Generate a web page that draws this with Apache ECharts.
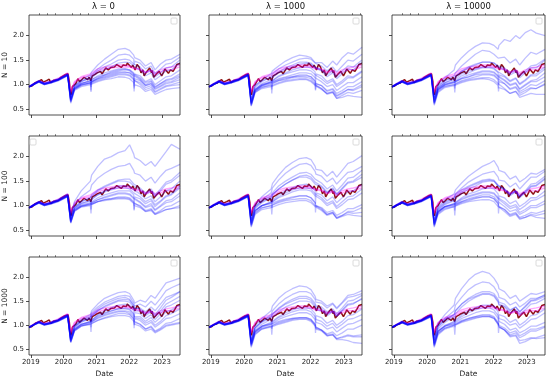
<!DOCTYPE html>
<html><head><meta charset="utf-8">
<script src="https://cdn.jsdelivr.net/npm/echarts@6/dist/echarts.min.js"></script>
<style>html,body{margin:0;padding:0;background:#fff}#c{width:550px;height:379px}</style>
</head><body><div id="c"></div>
<script>
const colTitles = ['λ = 0', 'λ = 1000', 'λ = 10000'];
const rowTitles = ['N = 10', 'N = 100', 'N = 1000'];
const yTickValues = [0.5, 1.0, 1.5, 2.0];
const yearTicks = ['2019-01-01','2020-01-01','2021-01-01','2022-01-01','2023-01-01'];
const quarterTicks = ['2019-04-01','2019-07-01','2019-10-01','2020-04-01','2020-07-01','2020-10-01','2021-04-01','2021-07-01','2021-10-01','2022-04-01','2022-07-01','2022-10-01','2023-04-01','2023-07-01'];

const gridDates = ['2018-12-12','2019-02-01','2019-04-01','2019-06-01','2019-08-15','2019-11-01','2020-02-15','2020-03-20','2020-05-01','2020-07-15','2020-10-25','2020-11-01','2020-11-08','2021-01-15','2021-04-01','2021-06-15','2021-09-01','2021-11-15','2022-01-05','2022-02-20','2022-02-24','2022-03-01','2022-05-01','2022-07-01','2022-09-01','2022-10-15','2022-12-15','2023-02-15','2023-04-15','2023-07-20'];

const benchDates = ['2018-12-12','2018-12-24','2019-01-10','2019-02-01','2019-02-20','2019-03-10','2019-04-01','2019-04-30','2019-05-20','2019-06-05','2019-06-25','2019-07-25','2019-08-10','2019-08-28','2019-09-15','2019-10-05','2019-10-30','2019-11-25','2019-12-15','2020-01-15','2020-01-30','2020-02-19','2020-03-05','2020-03-12','2020-03-23','2020-04-08','2020-04-30','2020-05-15','2020-06-08','2020-06-26','2020-07-20','2020-08-15','2020-09-02','2020-09-23','2020-10-12','2020-10-30','2020-11-16','2020-12-15','2021-01-08','2021-01-29','2021-02-15','2021-03-04','2021-03-25','2021-04-15','2021-05-12','2021-06-10','2021-06-30','2021-07-20','2021-08-15','2021-09-03','2021-10-04','2021-10-25','2021-11-08','2021-11-30','2021-12-10','2021-12-29','2022-01-25','2022-02-09','2022-03-07','2022-03-29','2022-04-20','2022-05-12','2022-06-01','2022-06-16','2022-07-08','2022-08-16','2022-09-06','2022-09-12','2022-09-30','2022-10-12','2022-11-01','2022-11-30','2022-12-28','2023-01-20','2023-02-02','2023-03-13','2023-04-05','2023-05-04','2023-05-30','2023-06-15','2023-07-20'];
const benchValues = [0.96,0.93,0.97,1.01,1.04,1.03,1.07,1.10,1.05,1.02,1.08,1.11,1.04,1.06,1.09,1.05,1.10,1.14,1.16,1.20,1.17,1.22,1.06,0.90,0.79,0.96,1.00,1.02,1.12,1.06,1.10,1.15,1.18,1.10,1.15,1.08,1.18,1.21,1.24,1.20,1.27,1.22,1.28,1.34,1.30,1.35,1.38,1.36,1.41,1.42,1.35,1.40,1.44,1.39,1.44,1.46,1.35,1.40,1.30,1.41,1.36,1.24,1.30,1.18,1.25,1.34,1.24,1.29,1.15,1.13,1.22,1.27,1.18,1.26,1.32,1.23,1.30,1.27,1.35,1.41,1.43];

const pinkA = [0.96,1.01,1.07,1.03,1.06,1.11,1.22,0.84,1.04,1.14,1.18,1.18,1.22,1.28,1.32,1.34,1.36,1.36,1.36,1.32,1.32,1.30,1.30,1.24,1.28,1.20,1.26,1.30,1.30,1.36];
const pinkB = [0.96,1.02,1.08,1.04,1.07,1.13,1.24,0.86,1.06,1.16,1.22,1.22,1.26,1.32,1.36,1.38,1.40,1.40,1.38,1.34,1.34,1.32,1.32,1.26,1.30,1.24,1.30,1.34,1.36,1.40];

const blueN10L0 = [
[0.96,1.02,1.08,1.03,1.07,1.12,1.22,0.74,0.98,1.10,1.20,1.20,1.26,1.40,1.52,1.62,1.72,1.74,1.70,1.60,1.60,1.55,1.50,1.38,1.45,1.30,1.42,1.50,1.52,1.62],
[0.95,1.01,1.07,1.02,1.06,1.11,1.20,0.70,0.95,1.06,1.15,1.15,1.20,1.32,1.42,1.50,1.60,1.62,1.60,1.52,1.40,1.48,1.44,1.32,1.38,1.22,1.32,1.42,1.44,1.56],
[0.96,1.01,1.06,1.01,1.05,1.10,1.20,0.72,0.96,1.06,1.12,0.95,1.14,1.24,1.30,1.36,1.44,1.46,1.45,1.38,1.38,1.34,1.30,1.18,1.24,1.10,1.18,1.28,1.30,1.45],
[0.95,1.00,1.06,1.00,1.04,1.09,1.19,0.66,0.92,1.02,1.08,1.08,1.10,1.18,1.24,1.28,1.32,1.32,1.30,1.24,1.02,1.22,1.18,1.06,1.12,1.00,1.08,1.16,1.18,1.30],
[0.96,1.01,1.06,1.02,1.05,1.10,1.20,0.68,0.93,1.02,1.08,0.88,1.10,1.16,1.20,1.24,1.28,1.30,1.28,1.20,1.20,1.16,1.12,1.00,1.06,0.94,1.02,1.10,1.12,1.22],
[0.95,1.00,1.05,1.00,1.04,1.08,1.18,0.64,0.90,0.99,1.04,1.04,1.06,1.12,1.16,1.20,1.24,1.25,1.24,1.16,0.96,1.12,1.08,0.98,1.02,0.92,0.98,1.05,1.06,1.15],
[0.96,1.01,1.07,1.02,1.05,1.10,1.21,0.70,0.94,1.03,1.06,1.06,1.08,1.12,1.18,1.22,1.26,1.26,1.24,1.18,1.18,1.14,1.10,0.98,1.02,0.90,0.96,1.02,1.04,1.10],
[0.95,1.00,1.06,1.01,1.04,1.09,1.19,0.67,0.91,1.00,1.03,0.85,1.05,1.10,1.14,1.18,1.22,1.22,1.20,1.12,0.92,1.08,1.04,0.94,0.98,0.86,0.92,0.98,1.00,1.05],
[0.96,1.01,1.06,1.01,1.05,1.10,1.20,0.65,0.90,0.98,1.02,1.02,1.04,1.08,1.12,1.16,1.20,1.20,1.18,1.10,1.10,1.06,1.00,0.90,0.94,0.84,0.90,0.96,0.98,1.00],
[0.95,1.00,1.05,1.00,1.03,1.08,1.18,0.62,0.88,0.96,1.00,1.00,1.02,1.06,1.10,1.12,1.16,1.15,1.12,1.04,0.86,1.00,0.96,0.86,0.90,0.80,0.85,0.90,0.92,0.94],
[0.96,1.02,1.08,1.03,1.06,1.11,1.21,0.76,0.98,1.08,1.14,1.14,1.18,1.28,1.36,1.42,1.50,1.52,1.50,1.42,1.42,1.38,1.36,1.24,1.30,1.16,1.24,1.34,1.36,1.50],
[0.95,1.00,1.06,1.01,1.04,1.09,1.19,0.69,0.92,1.00,1.04,1.04,1.07,1.14,1.20,1.26,1.30,1.32,1.30,1.22,1.22,1.18,1.14,1.04,1.08,0.96,1.02,1.08,1.10,1.18]];

const blueN10L1000 = [
[0.96,1.02,1.08,1.03,1.07,1.12,1.22,0.70,0.97,1.10,1.22,1.22,1.28,1.38,1.48,1.55,1.60,1.58,1.55,1.45,1.45,1.42,1.45,1.35,1.48,1.40,1.55,1.65,1.62,1.76],
[0.95,1.01,1.07,1.02,1.06,1.11,1.20,0.66,0.94,1.06,1.16,1.16,1.22,1.32,1.40,1.46,1.52,1.54,1.52,1.44,1.44,1.40,1.38,1.28,1.36,1.26,1.38,1.50,1.48,1.62],
[0.96,1.01,1.06,1.01,1.05,1.10,1.20,0.62,0.90,1.02,1.10,0.90,1.14,1.24,1.30,1.36,1.42,1.44,1.42,1.34,1.34,1.30,1.28,1.16,1.24,1.12,1.22,1.32,1.30,1.46],
[0.95,1.00,1.06,1.00,1.04,1.09,1.19,0.58,0.86,0.98,1.06,1.06,1.10,1.18,1.24,1.30,1.34,1.36,1.34,1.26,1.00,1.22,1.18,1.06,1.12,1.00,1.08,1.18,1.16,1.28],
[0.96,1.01,1.06,1.02,1.05,1.10,1.20,0.60,0.88,0.98,1.04,1.04,1.06,1.12,1.16,1.20,1.24,1.24,1.22,1.14,1.14,1.10,1.06,0.96,1.00,0.88,0.96,1.04,1.04,1.16],
[0.95,1.00,1.05,1.00,1.04,1.08,1.18,0.56,0.84,0.94,1.00,0.82,1.02,1.08,1.12,1.16,1.18,1.18,1.16,1.06,0.90,1.02,0.98,0.88,0.92,0.82,0.88,0.96,0.96,1.06],
[0.96,1.01,1.07,1.02,1.05,1.10,1.21,0.64,0.90,1.00,1.04,1.04,1.06,1.10,1.14,1.16,1.20,1.20,1.16,1.08,1.08,1.02,0.98,0.86,0.90,0.78,0.84,0.90,0.88,0.96],
[0.95,1.00,1.06,1.01,1.04,1.09,1.19,0.60,0.86,0.95,0.98,0.98,1.00,1.04,1.08,1.10,1.12,1.12,1.08,1.00,1.00,0.96,0.92,0.80,0.84,0.72,0.78,0.84,0.82,0.88],
[0.96,1.01,1.06,1.01,1.05,1.10,1.20,0.62,0.88,0.97,1.02,1.02,1.04,1.08,1.10,1.14,1.16,1.15,1.12,1.02,0.88,0.98,0.92,0.82,0.84,0.72,0.74,0.78,0.76,0.74],
[0.95,1.00,1.05,1.00,1.03,1.08,1.18,0.57,0.84,0.92,0.96,0.96,0.98,1.02,1.06,1.08,1.10,1.10,1.06,0.98,0.98,0.94,0.90,0.82,0.86,0.76,0.82,0.90,0.90,1.00],
[0.96,1.02,1.08,1.03,1.06,1.11,1.21,0.72,0.98,1.08,1.14,1.14,1.18,1.26,1.34,1.40,1.46,1.46,1.44,1.36,1.36,1.32,1.30,1.20,1.28,1.16,1.28,1.38,1.36,1.50],
[0.95,1.00,1.06,1.01,1.04,1.09,1.19,0.64,0.90,1.00,1.06,1.06,1.10,1.16,1.22,1.26,1.30,1.30,1.28,1.20,1.20,1.16,1.12,1.02,1.08,0.96,1.04,1.14,1.14,1.26]];

const blueN10L10000 = [
[0.96,1.02,1.08,1.03,1.07,1.12,1.22,0.74,1.00,1.14,1.30,1.30,1.40,1.55,1.68,1.78,1.85,1.84,1.80,1.72,1.72,1.80,1.92,1.88,2.00,1.94,2.06,2.12,2.05,2.00],
[0.95,1.01,1.07,1.02,1.06,1.11,1.20,0.72,0.96,1.08,1.18,1.18,1.24,1.38,1.50,1.62,1.70,1.68,1.62,1.54,1.54,1.50,1.56,1.44,1.52,1.40,1.54,1.66,1.62,1.72],
[0.96,1.01,1.06,1.01,1.05,1.10,1.20,0.68,0.93,1.04,1.12,0.92,1.16,1.26,1.34,1.40,1.46,1.46,1.44,1.36,1.36,1.32,1.30,1.20,1.26,1.14,1.24,1.34,1.34,1.50],
[0.95,1.00,1.06,1.00,1.04,1.09,1.19,0.62,0.90,1.00,1.06,1.06,1.10,1.18,1.24,1.30,1.34,1.34,1.32,1.24,1.00,1.20,1.16,1.06,1.12,1.00,1.08,1.18,1.18,1.32],
[0.96,1.01,1.06,1.02,1.05,1.10,1.20,0.64,0.90,0.99,1.04,1.04,1.06,1.12,1.16,1.22,1.26,1.26,1.24,1.16,1.16,1.12,1.08,0.98,1.02,0.90,0.98,1.06,1.06,1.16],
[0.95,1.00,1.05,1.00,1.04,1.08,1.18,0.60,0.86,0.96,1.00,0.84,1.02,1.08,1.12,1.16,1.20,1.20,1.18,1.10,0.92,1.06,1.02,0.92,0.96,0.86,0.92,1.00,0.98,1.08],
[0.96,1.01,1.07,1.02,1.05,1.10,1.21,0.66,0.92,1.02,1.06,1.06,1.08,1.12,1.16,1.20,1.22,1.22,1.20,1.12,1.12,1.08,1.02,0.90,0.94,0.82,0.88,0.94,0.92,1.00],
[0.95,1.00,1.06,1.01,1.04,1.09,1.19,0.62,0.88,0.97,1.00,1.00,1.02,1.06,1.10,1.12,1.14,1.14,1.10,1.02,1.02,0.98,0.92,0.82,0.86,0.74,0.78,0.82,0.80,0.80],
[0.96,1.01,1.06,1.01,1.05,1.10,1.20,0.70,0.94,1.04,1.10,1.10,1.14,1.22,1.28,1.32,1.36,1.36,1.34,1.26,1.26,1.22,1.18,1.08,1.14,1.02,1.10,1.20,1.22,1.36],
[0.95,1.00,1.05,1.00,1.03,1.08,1.18,0.58,0.84,0.94,0.98,0.98,1.00,1.04,1.08,1.10,1.12,1.10,1.06,0.98,0.86,0.94,0.90,0.82,0.86,0.78,0.84,0.92,0.92,1.02],
[0.96,1.02,1.08,1.03,1.06,1.11,1.21,0.74,0.98,1.08,1.14,1.14,1.18,1.28,1.36,1.42,1.46,1.46,1.44,1.38,1.38,1.36,1.34,1.24,1.30,1.18,1.28,1.38,1.40,1.52],
[0.95,1.00,1.06,1.01,1.04,1.09,1.19,0.64,0.90,1.00,1.04,1.04,1.08,1.14,1.20,1.24,1.28,1.28,1.26,1.18,1.18,1.14,1.10,1.00,1.04,0.92,1.00,1.08,1.10,1.24]];

const blueN100L0 = [
[0.96,1.02,1.08,1.03,1.07,1.13,1.24,0.78,1.08,1.30,1.50,1.50,1.62,1.80,1.95,2.00,2.08,2.12,2.24,2.05,2.05,1.98,1.92,1.82,1.90,1.80,1.95,2.10,2.25,2.15],
[0.96,1.02,1.08,1.03,1.06,1.12,1.22,0.76,1.02,1.18,1.32,1.32,1.42,1.56,1.66,1.74,1.80,1.82,1.86,1.72,1.72,1.66,1.62,1.50,1.58,1.46,1.60,1.72,1.76,1.84],
[0.95,1.01,1.07,1.02,1.06,1.11,1.20,0.72,0.96,1.08,1.16,1.16,1.22,1.32,1.40,1.46,1.52,1.54,1.54,1.44,1.44,1.40,1.36,1.26,1.34,1.22,1.34,1.48,1.52,1.68],
[0.96,1.01,1.06,1.01,1.05,1.10,1.20,0.70,0.94,1.04,1.10,0.92,1.14,1.22,1.30,1.34,1.40,1.40,1.40,1.32,1.32,1.28,1.24,1.14,1.20,1.08,1.18,1.30,1.34,1.50],
[0.95,1.00,1.06,1.00,1.04,1.09,1.19,0.66,0.92,1.02,1.06,1.06,1.10,1.16,1.22,1.26,1.30,1.30,1.30,1.22,1.00,1.18,1.14,1.04,1.10,0.98,1.08,1.18,1.22,1.36],
[0.96,1.01,1.06,1.02,1.05,1.10,1.20,0.68,0.92,1.00,1.04,1.04,1.06,1.12,1.16,1.20,1.24,1.24,1.22,1.14,1.14,1.10,1.06,0.96,1.00,0.90,0.98,1.06,1.08,1.20],
[0.95,1.00,1.05,1.00,1.04,1.08,1.18,0.64,0.88,0.97,1.00,0.84,1.02,1.08,1.12,1.14,1.18,1.18,1.16,1.08,0.92,1.04,1.00,0.90,0.94,0.84,0.90,0.98,1.00,1.10],
[0.96,1.01,1.07,1.02,1.05,1.10,1.21,0.67,0.90,0.99,1.02,1.02,1.04,1.08,1.12,1.14,1.16,1.16,1.14,1.06,1.06,1.02,0.98,0.88,0.92,0.82,0.86,0.92,0.94,1.00],
[0.95,1.00,1.06,1.01,1.04,1.09,1.19,0.65,0.89,0.98,1.02,1.02,1.04,1.08,1.10,1.12,1.14,1.14,1.12,1.04,0.90,1.00,0.96,0.88,0.90,0.82,0.88,0.92,0.94,0.96],
[0.96,1.01,1.06,1.01,1.05,1.10,1.20,0.70,0.95,1.05,1.10,1.10,1.14,1.22,1.28,1.32,1.36,1.36,1.34,1.26,1.26,1.22,1.18,1.08,1.14,1.02,1.10,1.20,1.24,1.40],
[0.95,1.00,1.05,1.00,1.03,1.08,1.18,0.66,0.90,0.99,1.04,1.04,1.06,1.12,1.18,1.22,1.26,1.26,1.24,1.16,1.16,1.12,1.08,0.98,1.04,0.92,1.00,1.10,1.12,1.26],
[0.96,1.02,1.08,1.03,1.06,1.11,1.21,0.72,0.97,1.08,1.16,1.16,1.20,1.30,1.38,1.44,1.50,1.50,1.48,1.40,1.40,1.36,1.32,1.22,1.30,1.18,1.30,1.44,1.48,1.62]];

const blueN100L1000 = [
[0.96,1.02,1.08,1.03,1.07,1.12,1.22,0.74,1.02,1.18,1.34,1.34,1.45,1.62,1.78,1.88,1.96,1.98,1.94,1.80,1.80,1.74,1.72,1.60,1.70,1.58,1.72,1.86,1.90,2.02],
[0.95,1.01,1.07,1.02,1.06,1.11,1.20,0.70,0.98,1.12,1.26,1.26,1.36,1.52,1.66,1.76,1.84,1.86,1.82,1.70,1.70,1.64,1.60,1.48,1.56,1.44,1.56,1.68,1.70,1.80],
[0.96,1.01,1.06,1.01,1.05,1.10,1.20,0.66,0.94,1.06,1.16,0.96,1.22,1.34,1.44,1.52,1.60,1.62,1.58,1.48,1.48,1.44,1.40,1.28,1.36,1.24,1.36,1.48,1.50,1.64],
[0.95,1.00,1.06,1.00,1.04,1.09,1.19,0.60,0.88,1.00,1.08,1.08,1.12,1.22,1.30,1.36,1.42,1.44,1.40,1.30,1.04,1.26,1.22,1.10,1.18,1.06,1.16,1.28,1.30,1.44],
[0.96,1.01,1.06,1.02,1.05,1.10,1.20,0.62,0.90,1.00,1.06,1.06,1.10,1.16,1.22,1.28,1.32,1.32,1.30,1.20,1.20,1.16,1.12,1.00,1.06,0.94,1.02,1.12,1.14,1.26],
[0.95,1.00,1.05,1.00,1.04,1.08,1.18,0.58,0.84,0.95,1.00,0.82,1.02,1.08,1.12,1.16,1.20,1.20,1.16,1.06,0.86,1.00,0.96,0.86,0.90,0.80,0.86,0.94,0.94,1.02],
[0.96,1.01,1.07,1.02,1.05,1.10,1.21,0.64,0.90,1.00,1.04,1.04,1.06,1.10,1.14,1.18,1.20,1.20,1.16,1.06,1.06,1.00,0.94,0.82,0.86,0.74,0.78,0.82,0.80,0.78],
[0.95,1.00,1.06,1.01,1.04,1.09,1.19,0.60,0.86,0.96,1.00,1.00,1.02,1.06,1.10,1.12,1.14,1.14,1.10,1.00,1.00,0.96,0.92,0.82,0.86,0.76,0.80,0.86,0.84,0.86],
[0.96,1.01,1.06,1.01,1.05,1.10,1.20,0.68,0.96,1.08,1.16,1.16,1.22,1.34,1.44,1.52,1.58,1.58,1.54,1.44,1.44,1.40,1.38,1.26,1.34,1.22,1.34,1.46,1.48,1.58],
[0.95,1.00,1.05,1.00,1.03,1.08,1.18,0.56,0.82,0.92,0.96,0.96,0.98,1.02,1.06,1.08,1.10,1.10,1.06,0.98,0.98,0.94,0.90,0.80,0.84,0.74,0.80,0.88,0.88,0.96],
[0.96,1.02,1.08,1.03,1.06,1.11,1.21,0.72,0.98,1.10,1.20,1.20,1.26,1.40,1.50,1.58,1.66,1.68,1.64,1.54,1.54,1.50,1.46,1.34,1.42,1.30,1.42,1.56,1.58,1.72],
[0.95,1.00,1.06,1.01,1.04,1.09,1.19,0.64,0.90,1.00,1.06,1.06,1.10,1.18,1.26,1.32,1.36,1.36,1.34,1.24,1.24,1.20,1.16,1.04,1.10,0.98,1.08,1.18,1.20,1.34]];

const blueN100L10000 = [
[0.96,1.02,1.08,1.03,1.07,1.12,1.22,0.72,0.98,1.12,1.24,1.24,1.32,1.46,1.60,1.70,1.80,1.86,1.92,1.78,1.78,1.72,1.68,1.54,1.60,1.48,1.56,1.66,1.64,1.74],
[0.95,1.01,1.07,1.02,1.06,1.11,1.20,0.68,0.94,1.06,1.16,1.16,1.24,1.36,1.48,1.56,1.64,1.68,1.70,1.58,1.58,1.52,1.50,1.38,1.46,1.34,1.46,1.58,1.58,1.70],
[0.96,1.01,1.06,1.01,1.05,1.10,1.20,0.64,0.90,1.02,1.10,0.90,1.14,1.24,1.34,1.40,1.48,1.50,1.50,1.40,1.40,1.36,1.32,1.20,1.28,1.16,1.26,1.38,1.40,1.54],
[0.95,1.00,1.06,1.00,1.04,1.09,1.19,0.60,0.86,0.98,1.04,1.04,1.08,1.16,1.24,1.28,1.34,1.36,1.34,1.24,1.00,1.20,1.16,1.04,1.10,0.98,1.06,1.16,1.16,1.30],
[0.96,1.01,1.06,1.02,1.05,1.10,1.20,0.62,0.88,0.98,1.02,1.02,1.06,1.12,1.18,1.22,1.26,1.26,1.24,1.14,1.14,1.10,1.04,0.94,0.98,0.86,0.92,1.00,1.00,1.10],
[0.95,1.00,1.05,1.00,1.04,1.08,1.18,0.56,0.82,0.92,0.98,0.80,1.00,1.06,1.10,1.14,1.18,1.18,1.14,1.04,0.84,0.98,0.92,0.82,0.86,0.76,0.80,0.86,0.84,0.90],
[0.96,1.01,1.07,1.02,1.05,1.10,1.21,0.64,0.88,0.98,1.02,1.02,1.04,1.08,1.12,1.16,1.18,1.18,1.14,1.04,1.04,0.98,0.92,0.80,0.84,0.74,0.76,0.80,0.76,0.74],
[0.95,1.00,1.06,1.01,1.04,1.09,1.19,0.58,0.84,0.94,0.98,0.98,1.00,1.04,1.08,1.10,1.12,1.12,1.08,0.98,0.98,0.94,0.88,0.78,0.82,0.72,0.76,0.82,0.80,0.84],
[0.96,1.01,1.06,1.01,1.05,1.10,1.20,0.66,0.92,1.04,1.12,1.12,1.18,1.28,1.38,1.44,1.50,1.52,1.50,1.40,1.40,1.36,1.34,1.22,1.30,1.18,1.28,1.40,1.42,1.56],
[0.95,1.00,1.05,1.00,1.03,1.08,1.18,0.60,0.86,0.96,1.00,1.00,1.02,1.08,1.14,1.18,1.22,1.22,1.18,1.08,1.08,1.04,0.98,0.88,0.92,0.82,0.88,0.96,0.96,1.04],
[0.96,1.02,1.08,1.03,1.06,1.11,1.21,0.70,0.96,1.08,1.16,1.16,1.22,1.32,1.40,1.46,1.52,1.54,1.52,1.42,1.42,1.38,1.34,1.24,1.30,1.20,1.30,1.44,1.46,1.60],
[0.95,1.00,1.06,1.01,1.04,1.09,1.19,0.62,0.88,0.98,1.04,1.04,1.08,1.14,1.20,1.24,1.28,1.28,1.26,1.16,1.16,1.12,1.08,0.98,1.02,0.92,1.00,1.10,1.12,1.22]];

const blueN1000L0 = [
[0.96,1.02,1.08,1.03,1.07,1.12,1.22,0.74,1.00,1.12,1.22,1.22,1.30,1.44,1.56,1.62,1.68,1.70,1.66,1.52,1.52,1.46,1.52,1.48,1.62,1.56,1.72,1.88,1.92,1.98],
[0.95,1.01,1.07,1.02,1.06,1.11,1.20,0.72,0.98,1.10,1.18,1.18,1.26,1.38,1.48,1.54,1.60,1.62,1.60,1.46,1.46,1.40,1.44,1.38,1.50,1.42,1.56,1.72,1.78,1.86],
[0.96,1.01,1.06,1.01,1.05,1.10,1.20,0.70,0.94,1.06,1.14,0.96,1.18,1.30,1.40,1.46,1.52,1.54,1.52,1.40,1.40,1.34,1.36,1.28,1.38,1.30,1.44,1.58,1.62,1.70],
[0.95,1.00,1.06,1.00,1.04,1.09,1.19,0.66,0.90,1.02,1.08,1.08,1.12,1.22,1.30,1.36,1.42,1.44,1.42,1.30,1.06,1.26,1.24,1.14,1.22,1.12,1.24,1.38,1.42,1.52],
[0.96,1.01,1.06,1.02,1.05,1.10,1.20,0.68,0.92,1.02,1.08,1.08,1.12,1.20,1.26,1.30,1.34,1.34,1.32,1.22,1.22,1.16,1.14,1.04,1.10,1.00,1.08,1.20,1.24,1.34],
[0.95,1.00,1.05,1.00,1.04,1.08,1.18,0.64,0.88,0.98,1.02,0.86,1.04,1.10,1.16,1.20,1.24,1.24,1.22,1.12,0.94,1.06,1.02,0.92,0.98,0.88,0.94,1.04,1.06,1.14],
[0.96,1.01,1.07,1.02,1.05,1.10,1.21,0.68,0.92,1.02,1.06,1.06,1.08,1.14,1.20,1.24,1.28,1.28,1.24,1.14,1.14,1.08,1.02,0.92,0.96,0.86,0.92,1.00,1.02,1.06],
[0.95,1.00,1.06,1.01,1.04,1.09,1.19,0.66,0.90,0.99,1.02,1.02,1.04,1.10,1.14,1.18,1.20,1.20,1.18,1.08,1.08,1.02,0.98,0.88,0.92,0.84,0.90,0.98,1.00,1.04],
[0.96,1.01,1.06,1.01,1.05,1.10,1.20,0.70,0.96,1.08,1.16,1.16,1.22,1.34,1.44,1.50,1.56,1.58,1.54,1.42,1.42,1.36,1.34,1.24,1.32,1.22,1.36,1.52,1.58,1.70],
[0.95,1.00,1.05,1.00,1.03,1.08,1.18,0.64,0.88,0.98,1.04,1.04,1.08,1.16,1.22,1.26,1.30,1.30,1.28,1.18,1.00,1.14,1.10,1.00,1.06,0.96,1.04,1.14,1.16,1.24],
[0.96,1.02,1.08,1.03,1.06,1.11,1.21,0.72,0.98,1.08,1.14,1.14,1.20,1.30,1.38,1.44,1.50,1.50,1.48,1.36,1.36,1.30,1.30,1.20,1.28,1.18,1.30,1.44,1.50,1.60],
[0.95,1.00,1.06,1.01,1.04,1.09,1.19,0.66,0.90,1.00,1.06,1.06,1.10,1.18,1.24,1.30,1.34,1.36,1.34,1.24,1.24,1.18,1.18,1.08,1.16,1.06,1.16,1.28,1.32,1.42]];

const blueN1000L1000 = [
[0.96,1.02,1.08,1.03,1.07,1.12,1.22,0.70,0.98,1.14,1.30,1.30,1.40,1.56,1.68,1.76,1.82,1.80,1.74,1.60,1.60,1.54,1.50,1.40,1.46,1.36,1.48,1.62,1.64,1.72],
[0.95,1.01,1.07,1.02,1.06,1.11,1.20,0.66,0.94,1.08,1.22,1.22,1.30,1.44,1.56,1.64,1.70,1.70,1.66,1.54,1.54,1.48,1.46,1.36,1.44,1.34,1.46,1.58,1.60,1.66],
[0.96,1.01,1.06,1.01,1.05,1.10,1.20,0.62,0.90,1.02,1.12,0.92,1.16,1.28,1.38,1.44,1.50,1.50,1.48,1.38,1.38,1.32,1.30,1.20,1.28,1.18,1.30,1.42,1.44,1.56],
[0.95,1.00,1.06,1.00,1.04,1.09,1.19,0.58,0.86,0.98,1.06,1.06,1.10,1.18,1.26,1.32,1.36,1.36,1.34,1.24,0.98,1.20,1.16,1.04,1.10,1.00,1.08,1.20,1.22,1.34],
[0.96,1.01,1.06,1.02,1.05,1.10,1.20,0.60,0.86,0.96,1.02,1.02,1.06,1.12,1.18,1.22,1.26,1.26,1.22,1.12,1.12,1.06,1.02,0.92,0.96,0.86,0.94,1.02,1.04,1.12],
[0.95,1.00,1.05,1.00,1.04,1.08,1.18,0.54,0.80,0.92,0.98,0.80,1.00,1.06,1.10,1.14,1.16,1.16,1.12,1.02,0.84,0.96,0.90,0.80,0.82,0.72,0.74,0.78,0.76,0.76],
[0.96,1.01,1.07,1.02,1.05,1.10,1.21,0.62,0.88,0.98,1.02,1.02,1.04,1.08,1.12,1.14,1.16,1.16,1.12,1.02,1.02,0.96,0.90,0.78,0.80,0.70,0.70,0.68,0.64,0.62],
[0.95,1.00,1.06,1.01,1.04,1.09,1.19,0.58,0.84,0.94,0.98,0.98,1.00,1.04,1.08,1.12,1.14,1.14,1.10,1.00,1.00,0.94,0.90,0.82,0.86,0.78,0.84,0.92,0.92,1.00],
[0.96,1.01,1.06,1.01,1.05,1.10,1.20,0.66,0.94,1.06,1.16,1.16,1.22,1.34,1.44,1.50,1.56,1.56,1.52,1.42,1.42,1.36,1.34,1.24,1.30,1.20,1.32,1.44,1.46,1.54],
[0.95,1.00,1.05,1.00,1.03,1.08,1.18,0.56,0.82,0.92,0.96,0.96,0.98,1.02,1.06,1.10,1.12,1.12,1.08,0.98,0.98,0.92,0.88,0.78,0.80,0.72,0.76,0.80,0.78,0.80],
[0.96,1.02,1.08,1.03,1.06,1.11,1.21,0.68,0.96,1.08,1.18,1.18,1.24,1.36,1.46,1.54,1.60,1.60,1.56,1.46,1.46,1.40,1.38,1.28,1.34,1.24,1.36,1.50,1.52,1.62],
[0.95,1.00,1.06,1.01,1.04,1.09,1.19,0.62,0.88,0.98,1.04,1.04,1.08,1.16,1.22,1.28,1.32,1.32,1.28,1.18,1.18,1.12,1.08,0.98,1.04,0.94,1.02,1.12,1.14,1.22]];

const blueN1000L10000 = [
[0.96,1.02,1.08,1.03,1.07,1.12,1.22,0.74,1.04,1.22,1.42,1.42,1.56,1.76,1.94,2.06,2.12,2.08,1.98,1.84,1.84,1.76,1.70,1.56,1.62,1.50,1.58,1.66,1.64,1.70],
[0.95,1.01,1.07,1.02,1.06,1.11,1.20,0.70,0.98,1.14,1.30,1.30,1.42,1.58,1.74,1.84,1.90,1.88,1.80,1.66,1.66,1.58,1.54,1.42,1.48,1.38,1.46,1.56,1.56,1.62],
[0.96,1.01,1.06,1.01,1.05,1.10,1.20,0.64,0.92,1.06,1.18,0.96,1.24,1.38,1.50,1.58,1.64,1.64,1.60,1.48,1.48,1.42,1.38,1.26,1.32,1.22,1.32,1.44,1.46,1.56],
[0.95,1.00,1.06,1.00,1.04,1.09,1.19,0.58,0.86,0.98,1.08,1.08,1.12,1.22,1.30,1.36,1.42,1.42,1.40,1.28,1.00,1.22,1.18,1.06,1.12,1.00,1.08,1.20,1.22,1.34],
[0.96,1.01,1.06,1.02,1.05,1.10,1.20,0.60,0.88,0.98,1.04,1.04,1.08,1.14,1.20,1.26,1.30,1.30,1.26,1.14,1.14,1.08,1.02,0.90,0.94,0.84,0.90,0.98,0.98,1.06],
[0.95,1.00,1.05,1.00,1.04,1.08,1.18,0.54,0.80,0.92,0.98,0.80,1.00,1.06,1.10,1.14,1.18,1.18,1.14,1.02,0.84,0.96,0.90,0.78,0.80,0.68,0.70,0.74,0.72,0.74],
[0.96,1.01,1.07,1.02,1.05,1.10,1.21,0.62,0.88,0.98,1.02,1.02,1.04,1.10,1.14,1.18,1.20,1.20,1.16,1.04,1.04,0.98,0.90,0.76,0.78,0.62,0.66,0.72,0.74,0.80],
[0.95,1.00,1.06,1.01,1.04,1.09,1.19,0.58,0.84,0.94,1.00,1.00,1.02,1.08,1.12,1.16,1.18,1.18,1.14,1.02,1.02,0.96,0.90,0.80,0.84,0.74,0.80,0.88,0.88,0.96],
[0.96,1.01,1.06,1.01,1.05,1.10,1.20,0.68,0.96,1.10,1.22,1.22,1.30,1.44,1.56,1.64,1.70,1.70,1.66,1.54,1.54,1.48,1.44,1.32,1.38,1.28,1.38,1.50,1.52,1.60],
[0.95,1.00,1.05,1.00,1.03,1.08,1.18,0.56,0.82,0.94,1.00,1.00,1.02,1.08,1.14,1.18,1.22,1.22,1.18,1.06,1.06,1.00,0.94,0.84,0.88,0.78,0.84,0.92,0.92,0.98],
[0.96,1.02,1.08,1.03,1.06,1.11,1.21,0.70,0.98,1.12,1.22,1.22,1.30,1.44,1.54,1.60,1.66,1.66,1.62,1.50,1.50,1.44,1.40,1.30,1.38,1.28,1.40,1.52,1.54,1.64],
[0.95,1.00,1.06,1.01,1.04,1.09,1.19,0.62,0.88,1.00,1.06,1.06,1.10,1.18,1.26,1.32,1.36,1.36,1.32,1.20,1.20,1.14,1.10,1.00,1.04,0.94,1.02,1.12,1.14,1.26]];

const panelBlue = [
  [blueN10L0, blueN10L1000, blueN10L10000],
  [blueN100L0, blueN100L1000, blueN100L10000],
  [blueN1000L0, blueN1000L1000, blueN1000L10000]
];

// layout (pixels)
const colLeft = [27, 209, 392];
const rowTop = [15, 136, 257];
const panelW = 153, panelH = 100;
const FONT = 'DejaVu Sans';

function ts(s) { const p = s.split('-').map(Number); return Date.UTC(p[0], p[1] - 1, p[2]); }
const xMin = ts('2018-12-12'), xMax = ts('2023-07-20');

const grids = [], xAxes = [], yAxes = [], series = [], graphics = [];
for (let r = 0; r < 3; r++) {
  for (let c = 0; c < 3; c++) {
    const i = r * 3 + c;
    grids.push({ left: colLeft[c], top: rowTop[r], width: panelW, height: panelH, show: true, borderColor: '#222', borderWidth: 0.8, backgroundColor: 'transparent', z: 10 });
    xAxes.push({
      type: 'value', gridIndex: i, min: xMin, max: xMax, scale: true,
      axisLine: { show: false }, splitLine: { show: false },
      axisTick: { show: true, length: 3, lineStyle: { color: '#222', width: 0.8 }, customValues: yearTicks.map(ts) },
      axisLabel: { show: r === 2, customValues: yearTicks.map(ts), formatter: v => String(new Date(v).getUTCFullYear()), fontFamily: FONT, fontSize: 7, color: '#222', margin: 4 },
      name: r === 2 ? 'Date' : '', nameLocation: 'middle', nameGap: 15, nameTextStyle: { fontFamily: FONT, fontSize: 7.5, color: '#222' }
    });
    xAxes.push({
      type: 'value', gridIndex: i, min: xMin, max: xMax, scale: true,
      axisLine: { show: false }, splitLine: { show: false },
      axisTick: { show: true, length: 1.8, lineStyle: { color: '#222', width: 0.6 }, customValues: quarterTicks.map(ts) },
      axisLabel: { show: false }
    });
    yAxes.push({
      type: 'value', gridIndex: i, min: 0.38, max: 2.42,
      axisLine: { show: false }, splitLine: { show: false },
      axisTick: { show: true, length: 3, lineStyle: { color: '#222', width: 0.8 }, customValues: yTickValues },
      axisLabel: { show: c === 0, customValues: yTickValues, formatter: v => v.toFixed(1), fontFamily: FONT, fontSize: 7, color: '#222', margin: 5 },
      name: c === 0 ? rowTitles[r] : '', nameLocation: 'middle', nameGap: 18, nameRotate: 90, nameTextStyle: { fontFamily: FONT, fontSize: 7.5, color: '#222' }
    });
    const xi = i * 2;
    series.push({ type: 'line', xAxisIndex: xi, yAxisIndex: i, symbol: 'none', silent: true, animation: false,
      lineStyle: { color: '#8e1212', width: 1.5 },
      data: benchDates.map((d, k) => [ts(d), benchValues[k]]) });
    [pinkA, pinkB].forEach(line => {
      series.push({ type: 'line', xAxisIndex: xi, yAxisIndex: i, symbol: 'none', silent: true, animation: false,
        lineStyle: { color: 'rgba(255,0,255,0.35)', width: 1.4 },
        data: gridDates.map((d, k) => [ts(d), line[k]]) });
    });
    panelBlue[r][c].forEach(line => {
      series.push({ type: 'line', xAxisIndex: xi, yAxisIndex: i, symbol: 'none', silent: true, animation: false,
        lineStyle: { color: 'rgba(0,0,255,0.25)', width: 1.3 },
        data: gridDates.map((d, k) => [ts(d), line[k]]) });
    });
    const lx = (r === 1 && c === 0) ? colLeft[c] + 3 : colLeft[c] + panelW - 9;
    graphics.push({ type: 'rect', shape: { x: lx, y: rowTop[r] + 3, width: 6, height: 6, r: 1 }, style: { fill: '#fff', stroke: '#d0d0d0', lineWidth: 0.8 }, z: 100 });
  }
}
colTitles.forEach((t, c) => {
  graphics.push({ type: 'text', x: colLeft[c] + panelW / 2, y: 7, style: { text: t, font: '8.5px "DejaVu Sans"', fill: '#111', align: 'center', verticalAlign: 'middle' }, z: 100 });
});

const chart = echarts.init(document.getElementById('c'), null, { renderer: 'canvas' });
chart.setOption({ animation: false, backgroundColor: '#fff', grid: grids, xAxis: xAxes, yAxis: yAxes, series: series, graphic: graphics });
</script></body></html>
